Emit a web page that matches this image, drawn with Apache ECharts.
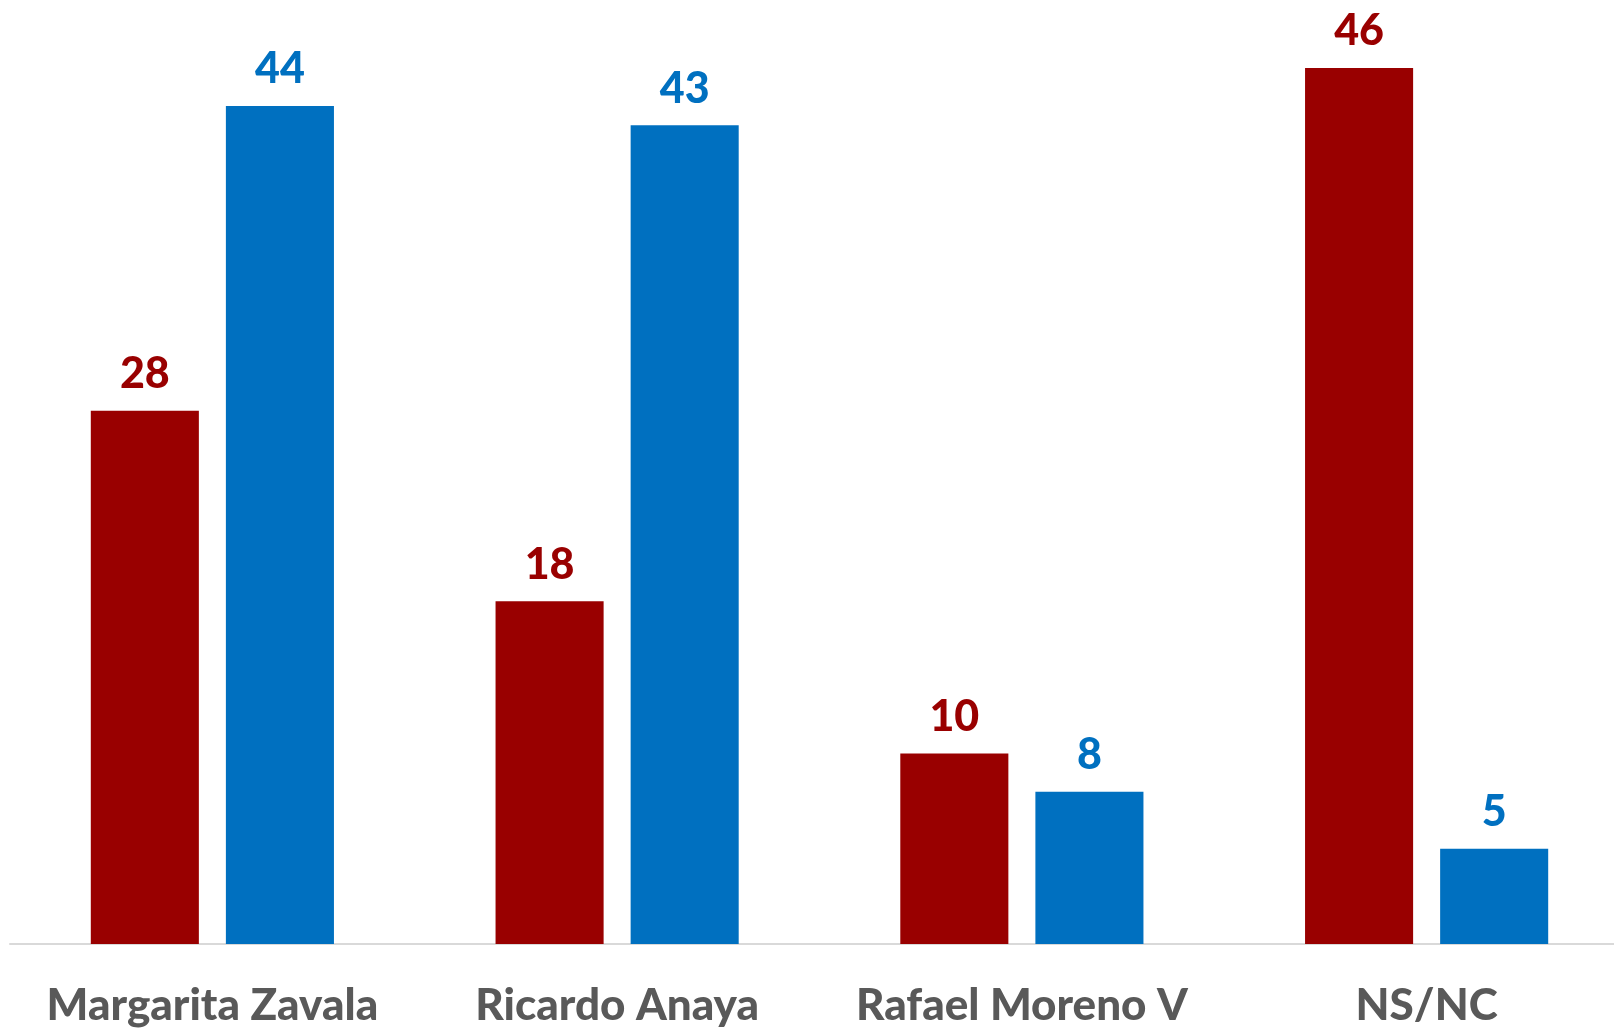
<!DOCTYPE html>
<html>
<head>
<meta charset="utf-8">
<script src="https://cdn.jsdelivr.net/npm/echarts@6/dist/echarts.min.js"></script>
<style>
html, body { margin: 0; padding: 0; background: #fff; overflow: hidden; }
#chart { width: 1629px; height: 1028px; }
</style>
</head>
<body>
<div id="chart"></div>
<script>
var candidatos = ['Margarita Zavala', 'Ricardo Anaya', 'Rafael Moreno V', 'NS/NC'];
var serieRoja = [28, 18, 10, 46];
var serieAzul = [44, 43, 8, 5];

var chart = echarts.init(document.getElementById('chart'));
chart.setOption({
	backgroundColor: '#ffffff',
	animation: false,
	grid: { left: 10, right: 0, top: 68, bottom: 83, containLabel: false },
	xAxis: {
		type: 'category',
		data: candidatos,
		axisTick: { show: false },
		axisLine: { lineStyle: { color: '#D9D9D9', width: 2 } },
		axisLabel: {
			interval: 0,
			margin: 40,
			color: '#595959',
			fontFamily: 'Lato',
			fontWeight: 900,
			fontSize: 44
		}
	},
	yAxis: {
		type: 'value',
		min: 0,
		max: 46,
		show: false,
		splitLine: { show: false }
	},
	series: [{
		name: 'rojo',
		type: 'bar',
		data: serieRoja,
		barWidth: '26.7%',
		barGap: '25%',
		itemStyle: { color: '#990000' },
		label: {
			show: true,
			position: 'top',
			distance: 15,
			color: '#990000',
			fontFamily: 'Lato',
			fontWeight: 900,
			fontSize: 43
		}
	}, {
		name: 'azul',
		type: 'bar',
		data: serieAzul,
		barWidth: '26.7%',
		itemStyle: { color: '#0070C0' },
		label: {
			show: true,
			position: 'top',
			distance: 15,
			color: '#0070C0',
			fontFamily: 'Lato',
			fontWeight: 900,
			fontSize: 43
		}
	}]
});
</script>
</body>
</html>
